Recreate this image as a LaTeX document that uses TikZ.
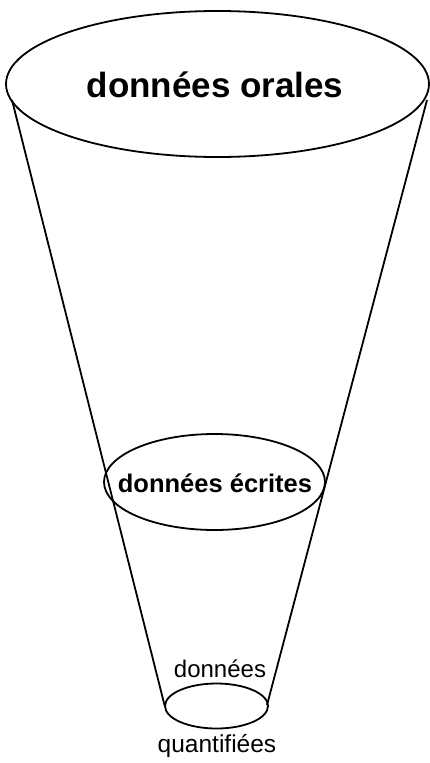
\documentclass[tikz,border=0pt]{standalone}
\usepackage{fontspec}
\setmainfont{Liberation Sans}
\usetikzlibrary{shapes.geometric}
\begin{document}
\begin{tikzpicture}[x=1pt,y=-1pt,
  cone/.style={draw=black,line width=1.8pt},
  ring/.style={ellipse,draw=black,line width=1.8pt,inner sep=0pt,outer sep=0pt},
  lbl/.style={anchor=base,inner sep=0pt}]
\useasboundingbox (0,0) rectangle (430,763);
% ellipses
\node[ring,minimum width=423pt,minimum height=146pt] (top) at (217.5,84) {};
\node[ring,minimum width=221pt,minimum height=96pt] (mid) at (214.5,482) {};
\node[ring,minimum width=103pt,minimum height=45pt] (bot) at (216.5,706) {};
% cone sides
\coordinate (tl) at (12,100);
\coordinate (tr) at (427,100);
\coordinate (bl) at (165,707);
\coordinate (br) at (267,705);
\draw[cone] (tl) -- (bl);
\draw[cone] (tr) -- (br);
% labels
\node[lbl,font=\fontsize{35}{40}\selectfont\bfseries] (t1) at (215,97) {données orales};
\node[lbl,font=\fontsize{25.5}{30}\selectfont\bfseries] (t2) at (215,492) {données écrites};
\node[lbl,font=\fontsize{24}{28}\selectfont] (t3) at (220,677) {données};
\node[lbl,font=\fontsize{24.5}{28}\selectfont] (t4) at (217,752) {quantifiées};
\end{tikzpicture}
\end{document}
